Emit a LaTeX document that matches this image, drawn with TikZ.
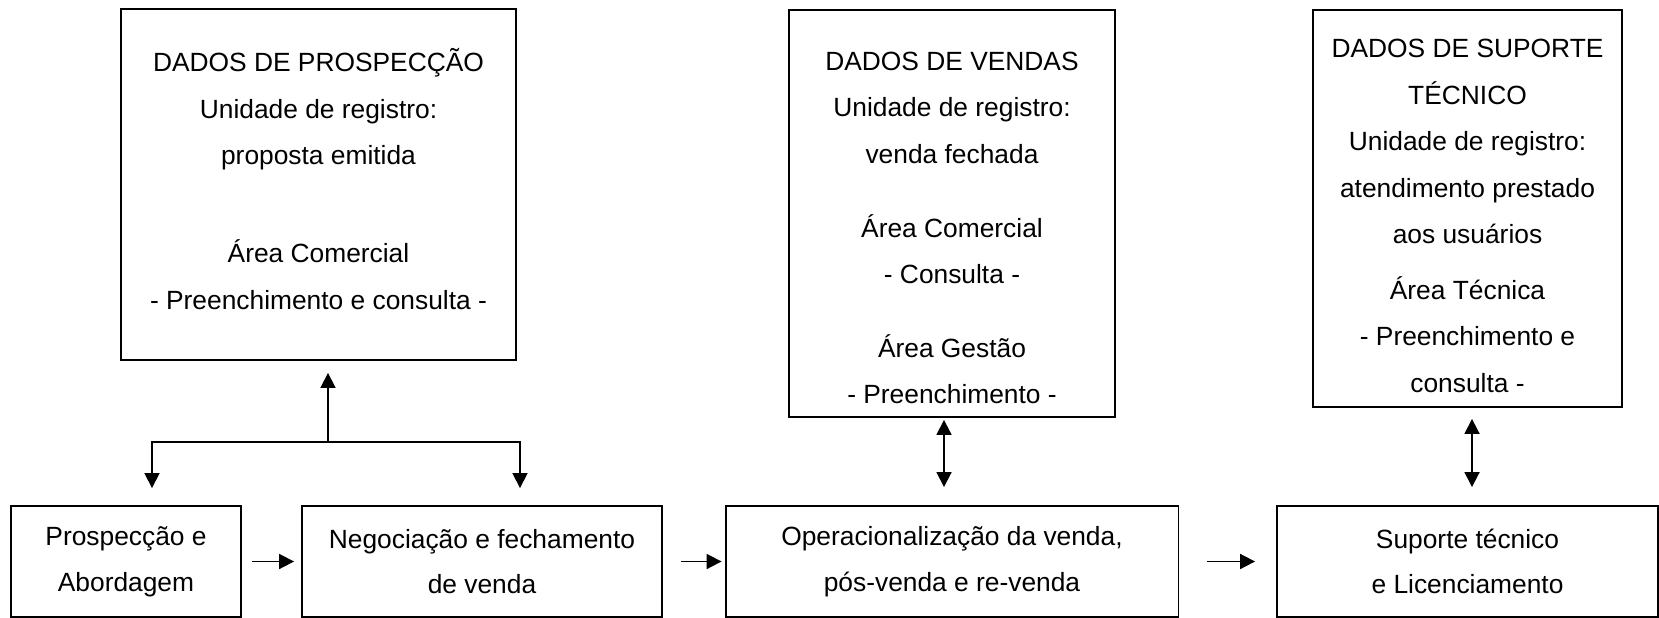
\documentclass[tikz,border=0pt]{standalone}
\usepackage{fontspec}
\setmainfont{Liberation Sans}
\usetikzlibrary{positioning, calc, arrows.meta}
\begin{document}
\begin{tikzpicture}[x=0.02cm, y=-0.02cm,
etapa/.style={rectangle, draw=black, line width=1.1pt, minimum height=2.22cm, align=center, font=\fontsize{15pt}{26pt}\selectfont},
dados/.style={rectangle, draw=black, line width=1.1pt},
texto/.style={align=center, inner sep=0pt, font=\fontsize{15pt}{26.5pt}\selectfont},
seta/.style={-{Triangle[length=0.3cm, width=0.3cm]}, line width=1pt},
dupla/.style={{Triangle[length=0.3cm, width=0.3cm]}-{Triangle[length=0.3cm, width=0.3cm]}, line width=1pt}]
\useasboundingbox (0,0) rectangle (1659,618);
\node (abord) [etapa, minimum width=4.6cm] at (126,561.5) {Prospecção e\\Abordagem};
\node (negoc) [etapa, minimum width=7.2cm] at (482,561.5) {Negociação e fechamento\\de venda};
\node (operac) [etapa, minimum width=9.06cm] at (952,561.5) {Operacionalização da venda,\\pós-venda e re-venda};
\node (suporte) [etapa, minimum width=7.62cm] at (1467.5,561.5) {Suporte técnico\\e Licenciamento};
\node (prosp) [dados, minimum width=7.9cm, minimum height=7.02cm] at (318.5,184.5) {};
\node (vendas) [dados, minimum width=6.52cm, minimum height=8.14cm] at (952,213.5) {};
\node (tecnico) [dados, minimum width=6.18cm, minimum height=7.94cm] at (1467.5,208.5) {};
\node (prospTxt) [texto] at (318.5,179) {DADOS DE PROSPECÇÃO\\Unidade de registro:\\proposta emitida\\[1.02cm]Área Comercial\\- Preenchimento e consulta -};
\node (vendasTxt) [texto] at (952,228) {DADOS DE VENDAS\\Unidade de registro:\\venda fechada\\[0.54cm]Área Comercial\\- Consulta -\\[0.54cm]Área Gestão\\- Preenchimento -};
\node (tecnicoTxt) [texto] at (1467.5,216) {DADOS DE SUPORTE\\TÉCNICO\\Unidade de registro:\\atendimento prestado\\aos usuários\\[0.18cm]Área Técnica\\- Preenchimento e\\consulta -};
\coordinate (fork) at (328,442);
\draw[seta, shorten >=0.24cm] (fork) -- (fork |- prosp.south);
\draw[seta, shorten >=0.34cm] (fork) -| ([xshift=0.52cm]abord.north);
\draw[seta, shorten >=0.34cm] (fork) -| ([xshift=0.76cm]negoc.north);
\draw[seta, shorten <=0.2cm, shorten >=0.14cm] (abord) -- (negoc);
\draw[seta, shorten <=0.36cm, shorten >=0.06cm] (negoc) -- (operac);
\draw[seta, shorten <=0.56cm, shorten >=0.42cm] (operac) -- (suporte);
\draw[dupla, shorten <=0.04cm, shorten >=0.36cm] ([xshift=-0.16cm]vendas.south) -- ([xshift=-0.16cm]operac.north);
\draw[dupla, shorten <=0.22cm, shorten >=0.36cm] ([xshift=0.09cm]tecnico.south) -- ([xshift=0.09cm]suporte.north);
\end{tikzpicture}
\end{document}
